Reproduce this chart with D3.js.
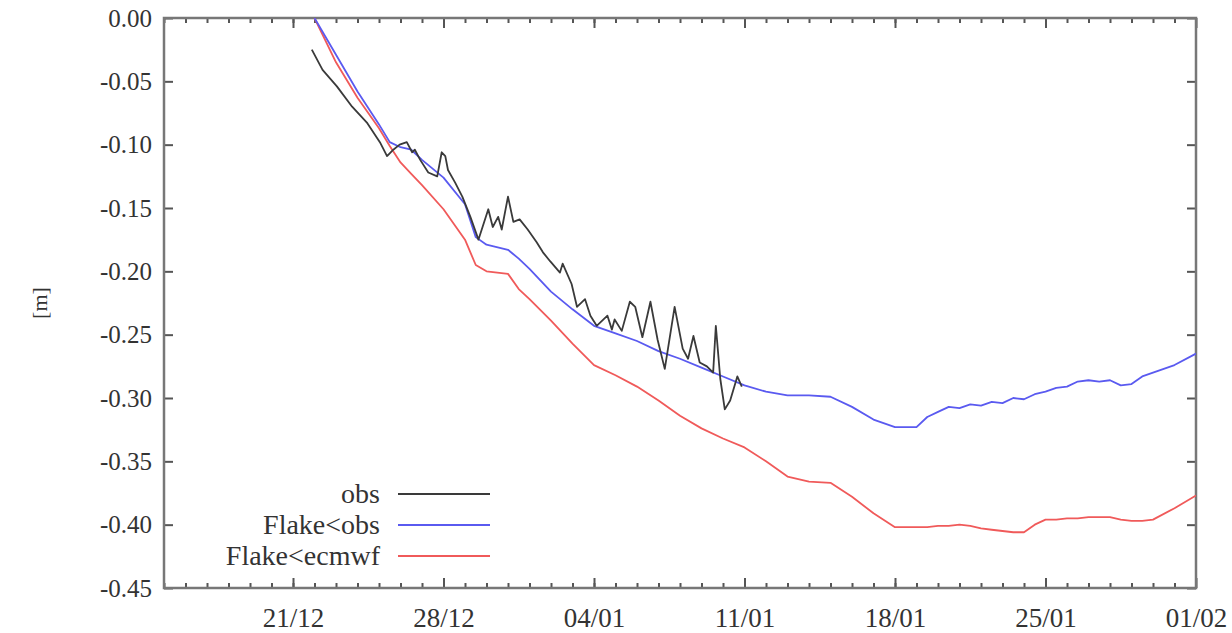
<!DOCTYPE html>
<html>
<head>
<meta charset="utf-8">
<script src="https://cdn.jsdelivr.net/npm/d3@7"></script>
<style>
    body { margin: 0; background: #fff; }
    #chart { width: 1232px; height: 633px; }
    .tick-label { font-family: "Liberation Serif", "DejaVu Serif", serif; font-size: 25px; fill: #333; }
    .x-label { font-size: 27px; }
    .axis-label { font-family: "Liberation Serif", "DejaVu Serif", serif; font-size: 22px; fill: #333; }
    .legend-label { font-family: "Liberation Serif", "DejaVu Serif", serif; font-size: 28px; fill: #333; }
</style>
</head>
<body>
<div id="chart"></div>
<script>
var width = 1232
var height = 633
const margin = {bottom: 45, left: 164, top: 18, right: 36}

// x axis: date range and labelled ticks (dd/mm)
var xStart = "15/12/2009 00"
var xEnd = "01/02/2010 00"
var xTickLabels = ["21/12", "28/12", "04/01", "11/01", "18/01", "25/01", "01/02"]
var yTicks = [0.00, -0.05, -0.10, -0.15, -0.20, -0.25, -0.30, -0.35, -0.40, -0.45]

// observed level (dd/mm/yyyy hh)
var obsTimes = [
    "21/12/2009 21", "22/12/2009 09", "23/12/2009 01", "23/12/2009 18", "24/12/2009 11",
    "25/12/2009 01", "25/12/2009 09", "25/12/2009 16", "25/12/2009 23", "26/12/2009 07",
    "26/12/2009 13", "26/12/2009 16", "26/12/2009 22", "27/12/2009 07", "27/12/2009 17",
    "27/12/2009 22", "28/12/2009 02", "28/12/2009 05", "28/12/2009 13", "28/12/2009 21",
    "29/12/2009 06", "29/12/2009 15", "30/12/2009 02", "30/12/2009 07", "30/12/2009 13",
    "30/12/2009 17", "31/12/2009 00", "31/12/2009 06", "31/12/2009 13", "31/12/2009 22",
    "01/01/2010 08", "01/01/2010 15", "01/01/2010 23", "02/01/2010 10", "02/01/2010 13",
    "02/01/2010 23", "03/01/2010 05", "03/01/2010 14", "03/01/2010 20", "04/01/2010 03",
    "04/01/2010 15", "04/01/2010 20", "04/01/2010 23", "05/01/2010 07", "05/01/2010 16",
    "05/01/2010 22", "06/01/2010 06", "06/01/2010 15", "06/01/2010 23", "07/01/2010 07",
    "07/01/2010 18", "08/01/2010 03", "08/01/2010 09", "08/01/2010 15", "08/01/2010 22",
    "09/01/2010 06", "09/01/2010 13", "09/01/2010 16", "09/01/2010 21", "10/01/2010 02",
    "10/01/2010 08", "10/01/2010 16", "10/01/2010 21"
]
var obsValues = [
    -0.025, -0.041, -0.054, -0.070, -0.083,
    -0.098, -0.109, -0.104, -0.100, -0.098,
    -0.106, -0.104, -0.112, -0.122, -0.125,
    -0.106, -0.109, -0.120, -0.130, -0.141,
    -0.157, -0.175, -0.151, -0.165, -0.157,
    -0.167, -0.141, -0.161, -0.159, -0.167,
    -0.177, -0.185, -0.192, -0.201, -0.194,
    -0.210, -0.228, -0.222, -0.235, -0.243,
    -0.235, -0.246, -0.238, -0.247, -0.224,
    -0.228, -0.252, -0.224, -0.254, -0.277,
    -0.228, -0.261, -0.269, -0.251, -0.272,
    -0.275, -0.280, -0.243, -0.285, -0.309,
    -0.302, -0.283, -0.291
]

// model runs
var modelTimes = [
    "22/12/2009 00", "23/12/2009 00", "24/12/2009 00", "25/12/2009 00", "25/12/2009 12",
    "26/12/2009 00", "26/12/2009 12", "27/12/2009 00", "28/12/2009 00", "29/12/2009 00",
    "29/12/2009 12", "30/12/2009 00", "31/12/2009 00", "31/12/2009 12", "01/01/2010 00",
    "02/01/2010 00", "03/01/2010 00", "04/01/2010 00", "05/01/2010 00", "06/01/2010 00",
    "07/01/2010 00", "08/01/2010 00", "09/01/2010 00", "10/01/2010 00", "11/01/2010 00",
    "12/01/2010 00", "13/01/2010 00", "14/01/2010 00", "15/01/2010 00", "16/01/2010 00",
    "17/01/2010 00", "18/01/2010 00", "19/01/2010 00", "19/01/2010 12", "20/01/2010 00",
    "20/01/2010 12", "21/01/2010 00", "21/01/2010 12", "22/01/2010 00", "22/01/2010 12",
    "23/01/2010 00", "23/01/2010 12", "24/01/2010 00", "24/01/2010 12", "25/01/2010 00",
    "25/01/2010 12", "26/01/2010 00", "26/01/2010 12", "27/01/2010 00", "27/01/2010 12",
    "28/01/2010 00", "28/01/2010 12", "29/01/2010 00", "29/01/2010 12", "30/01/2010 00",
    "31/01/2010 00", "01/02/2010 00"
]
var flakeObsValues = [
    0.000, -0.029, -0.058, -0.084, -0.098,
    -0.102, -0.104, -0.112, -0.126, -0.147,
    -0.173, -0.179, -0.183, -0.190, -0.198,
    -0.216, -0.230, -0.243, -0.249, -0.255,
    -0.263, -0.269, -0.276, -0.283, -0.290,
    -0.295, -0.298, -0.298, -0.299, -0.307,
    -0.317, -0.323, -0.323, -0.315, -0.311,
    -0.307, -0.308, -0.305, -0.306, -0.303,
    -0.304, -0.300, -0.301, -0.297, -0.295,
    -0.292, -0.291, -0.287, -0.286, -0.287,
    -0.286, -0.290, -0.289, -0.283, -0.280,
    -0.274, -0.265
]
var flakeEcmwfValues = [
    0.000, -0.035, -0.063, -0.087, -0.101,
    -0.114, -0.123, -0.132, -0.151, -0.175,
    -0.195, -0.200, -0.202, -0.214, -0.222,
    -0.239, -0.257, -0.274, -0.282, -0.291,
    -0.302, -0.314, -0.324, -0.332, -0.339,
    -0.350, -0.362, -0.366, -0.367, -0.378,
    -0.391, -0.402, -0.402, -0.402, -0.401,
    -0.401, -0.400, -0.401, -0.403, -0.404,
    -0.405, -0.406, -0.406, -0.400, -0.396,
    -0.396, -0.395, -0.395, -0.394, -0.394,
    -0.394, -0.396, -0.397, -0.397, -0.396,
    -0.387, -0.377
]

var seriesNames = ["obs", "Flake<obs", "Flake<ecmwf"]
var seriesColors = ["#3a3a3a", "#5a5af0", "#f05a5a"]

var parseTime = d3.utcParse("%d/%m/%Y %H")
var parseTick = function(s) { return parseTime(s + (s.slice(3) == "12" ? "/2009 00" : "/2010 00")) }

var svg, xScale, yScale, plot_svg

drawChart()

function drawChart()
{
    var plotW = width - margin.left - margin.right
    var plotH = height - margin.top - margin.bottom

    xScale = d3.scaleUtc()
        .domain([parseTime(xStart), parseTime(xEnd)])
        .range([margin.left, width - margin.right])
    yScale = d3.scaleLinear()
        .domain([-0.45, 0])
        .range([height - margin.bottom, margin.top])

    svg = d3.select("#chart")
        .append("svg")
        .attr("width", width)
        .attr("height", height)
        .attr("display", "block")

    svg.append("defs").append("svg:clipPath")
        .attr("id", "clipPlot")
        .append("svg:rect")
        .attr("x", margin.left)
        .attr("y", margin.top)
        .attr("width", plotW)
        .attr("height", plotH)

    var majorTicks = xTickLabels.map(parseTick)
    var minorTicks = d3.utcDay.range(parseTime(xStart), parseTime(xEnd))

    // bottom axis: daily minor ticks, weekly major ticks with labels
    var xMinor = d3.axisBottom(xScale).tickValues(minorTicks).tickSizeInner(-5).tickSizeOuter(0).tickFormat("")
    var xMajor = d3.axisBottom(xScale).tickValues(majorTicks).tickSizeInner(-10).tickSizeOuter(0)
        .tickPadding(20).tickFormat(d3.utcFormat("%d/%m"))
    var xMinorTop = d3.axisTop(xScale).tickValues(minorTicks).tickSizeInner(-5).tickSizeOuter(0).tickFormat("")
    var xMajorTop = d3.axisTop(xScale).tickValues(majorTicks).tickSizeInner(-10).tickSizeOuter(0).tickFormat("")

    var yLeft = d3.axisLeft(yScale).tickValues(yTicks).tickSizeInner(-9).tickSizeOuter(0)
        .tickPadding(12).tickFormat(function(d) { return d.toFixed(2) })
    var yRight = d3.axisRight(yScale).tickValues(yTicks).tickSizeInner(-9).tickSizeOuter(0).tickFormat("")

    var axes = svg.append("g").attr("class", "axes")
    axes.append("g").attr("transform", "translate(0," + (height - margin.bottom) + ")").call(xMinor)
    var xg = axes.append("g").attr("transform", "translate(0," + (height - margin.bottom) + ")").call(xMajor)
    axes.append("g").attr("transform", "translate(0," + margin.top + ")").call(xMinorTop)
    axes.append("g").attr("transform", "translate(0," + margin.top + ")").call(xMajorTop)
    axes.append("g").attr("transform", "translate(" + margin.left + ",0)").call(yLeft)
    axes.append("g").attr("transform", "translate(" + (width - margin.right) + ",0)").call(yRight)

    axes.selectAll(".domain").remove()
    axes.selectAll(".tick line").attr("stroke", "#555").attr("stroke-width", 2)
    axes.selectAll(".tick text").attr("class", "tick-label").attr("fill", null)
    xg.selectAll(".tick text").classed("x-label", true)

    // frame
    svg.append("rect")
        .attr("x", margin.left)
        .attr("y", margin.top)
        .attr("width", plotW)
        .attr("height", plotH)
        .attr("fill", "none")
        .attr("stroke", "#777")
        .attr("stroke-width", 2.5)

    svg.append("text")
        .attr("class", "axis-label")
        .attr("transform", "translate(" + 47 + "," + (margin.top + plotH / 2) + ")rotate(-90)")
        .style("text-anchor", "middle")
        .text("[m]")

    plot_svg = svg.append("g")
        .attr("clip-path", "url(#clipPlot)")

    var line = d3.line()
        .x(function(d) { return xScale(d[0]) })
        .y(function(d) { return yScale(d[1]) })

    var series = [
        obsTimes.map(function(t, i) { return [parseTime(t), obsValues[i]] }),
        modelTimes.map(function(t, i) { return [parseTime(t), flakeObsValues[i]] }),
        modelTimes.map(function(t, i) { return [parseTime(t), flakeEcmwfValues[i]] })
    ]

    // red underneath, then blue, obs on top
    ;[2, 1, 0].forEach(function(k) {
        plot_svg.append("path")
            .datum(series[k])
            .attr("fill", "none")
            .attr("stroke", seriesColors[k])
            .attr("stroke-width", 1.8)
            .attr("stroke-linejoin", "round")
            .attr("d", line)
    })

    // legend
    var legend = svg.append("g").attr("class", "legend")
    var legendRows = legend.selectAll("g")
        .data(seriesNames)
        .enter()
        .append("g")
        .attr("transform", function(d, i) { return "translate(0," + (494 + i * 31) + ")" })
    legendRows.append("text")
        .attr("class", "legend-label")
        .attr("x", 380)
        .attr("dy", "0.33em")
        .style("text-anchor", "end")
        .text(function(d) { return d })
    legendRows.append("line")
        .attr("x1", 398)
        .attr("x2", 490)
        .attr("stroke", function(d, i) { return seriesColors[i] })
        .attr("stroke-width", 1.8)
}
</script>
</body>
</html>
